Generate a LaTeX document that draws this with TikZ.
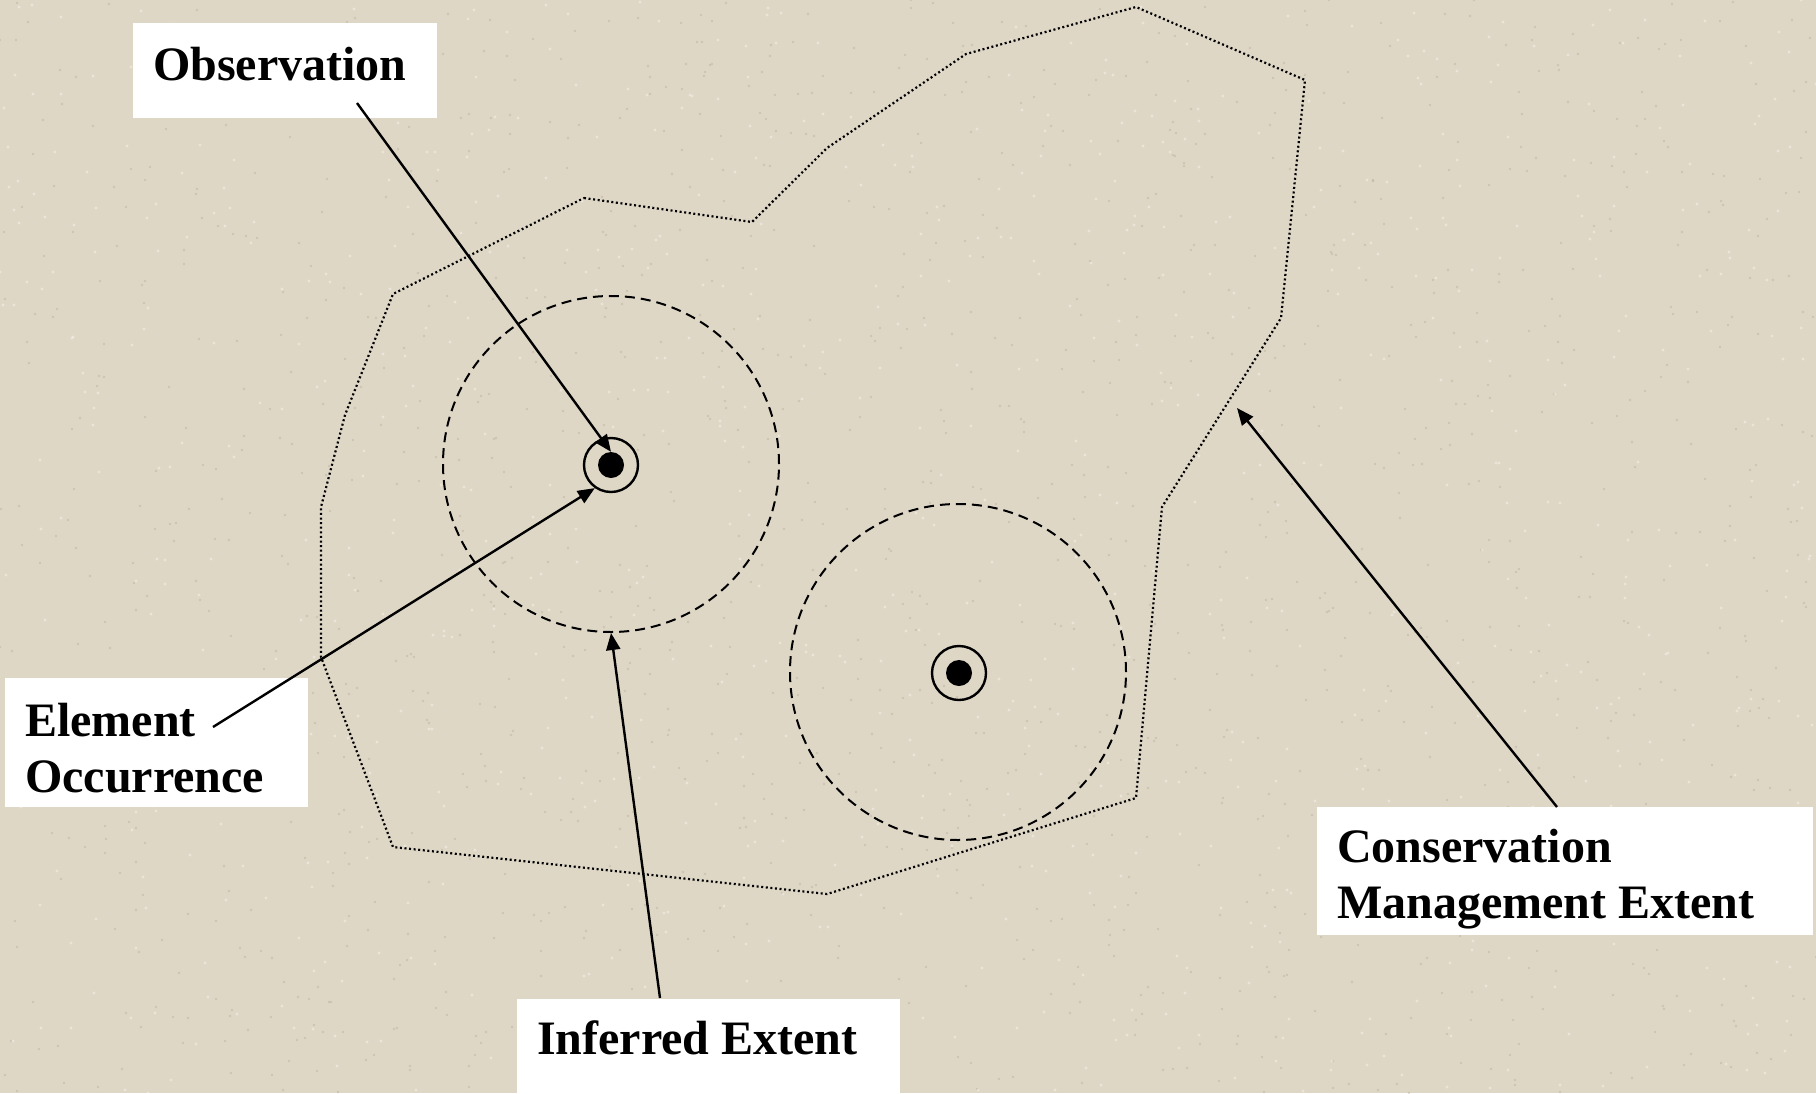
\documentclass[tikz,border=0pt]{standalone}
\usepackage{fontspec}
\setmainfont{Liberation Serif}
\usetikzlibrary{arrows.meta,calc}
\definecolor{stucco}{RGB}{223,215,198}
\definecolor{speckdark}{RGB}{170,160,140}
\tikzset{
  labelbox/.style={fill=white, draw=none, rectangle, anchor=north west, inner sep=0pt},
  labeltext/.style={anchor=base west, inner sep=0pt, align=left,
    font=\fontsize{48}{56}\selectfont\bfseries},
  pointer/.style={draw=black, line width=2.4pt, -{Triangle[length=17pt,width=14pt]}},
  boundary/.style={draw=black, line width=2.2pt, dash pattern=on 2pt off 2.6pt},
  extent/.style={circle, draw=black, line width=2pt, dash pattern=on 10pt off 6pt,
    minimum size=336pt, inner sep=0pt},
  ring/.style={circle, draw=black, line width=2.4pt, minimum size=54pt, inner sep=0pt},
  dotcore/.style={circle, fill=black, minimum size=26pt, inner sep=0pt},
}
\begin{document}
\begin{tikzpicture}[x=1pt, y=-1pt]
  % textured stucco ground
  \fill[stucco] (0,0) rectangle (1816,1093);
  \useasboundingbox (0,0) rectangle (1816,1093);
  \pgfmathsetseed{11}
  \foreach \i in {1,...,1400}{
    \pgfmathsetmacro\px{random(0,1816)}
    \pgfmathsetmacro\py{random(0,1093)}
    \fill[speckdark, opacity=0.35] (\px,\py) circle (1.3);
  }
  \foreach \i in {1,...,900}{
    \pgfmathsetmacro\px{random(0,1816)}
    \pgfmathsetmacro\py{random(0,1093)}
    \fill[white, opacity=0.35] (\px,\py) circle (1.6);
  }

  % conservation management boundary
  \draw[boundary] (584,198) -- (752,222) -- (827,148) -- (966,54) -- (1136,7)
    -- (1305,80) -- (1281,318) -- (1162,507) -- (1136,798) -- (827,894)
    -- (393,847) -- (321,657) -- (321,507) -- (345,415) -- (393,294) -- cycle;

  % inferred extents
  \node[extent] (ie1) at (611,464) {};
  \node[extent] (ie2) at (958,672) {};

  % element occurrences
  \node[dotcore] (eo1) at (611,465) {};
  \node[ring] (ring1) at (611,465) {};
  \node[dotcore] (eo2) at (959,673) {};
  \node[ring] (ring2) at (959,673) {};

  % label boxes (multi-line labels are placed by their last baseline)
  \node[labelbox, minimum width=304pt, minimum height=95pt] (obsbox) at (133,23) {};
  \node[labeltext] (obs) at (153,80) {Observation};

  \node[labelbox, minimum width=303pt, minimum height=129pt] (eobox) at (5,678) {};
  \node[labeltext] (eo) at (25,792) {Element\\Occurrence};

  \node[labelbox, minimum width=496pt, minimum height=128pt] (cmebox) at (1317,807) {};
  \node[labeltext] (cme) at (1337,918) {Conservation\\Management Extent};

  \node[labelbox, minimum width=383pt, minimum height=100pt] (iebox) at (517,999) {};
  \node[labeltext] (ie) at (537,1054) {Inferred Extent};

  % connector ends
  \coordinate (obsstart) at (357,103);
  \coordinate (eostart) at (213,727);
  \coordinate (iestart) at (660,998);
  \coordinate (cmestart) at (1557,807);
  \coordinate (cmetip) at (1237,408);

  \draw[pointer] (obsstart) -- (eo1.north);
  \draw[pointer] (eostart) -- (ring1.235);
  \draw[pointer] (iestart) -- (ie1.south);
  \draw[pointer] (cmestart) -- (cmetip);
\end{tikzpicture}
\end{document}
